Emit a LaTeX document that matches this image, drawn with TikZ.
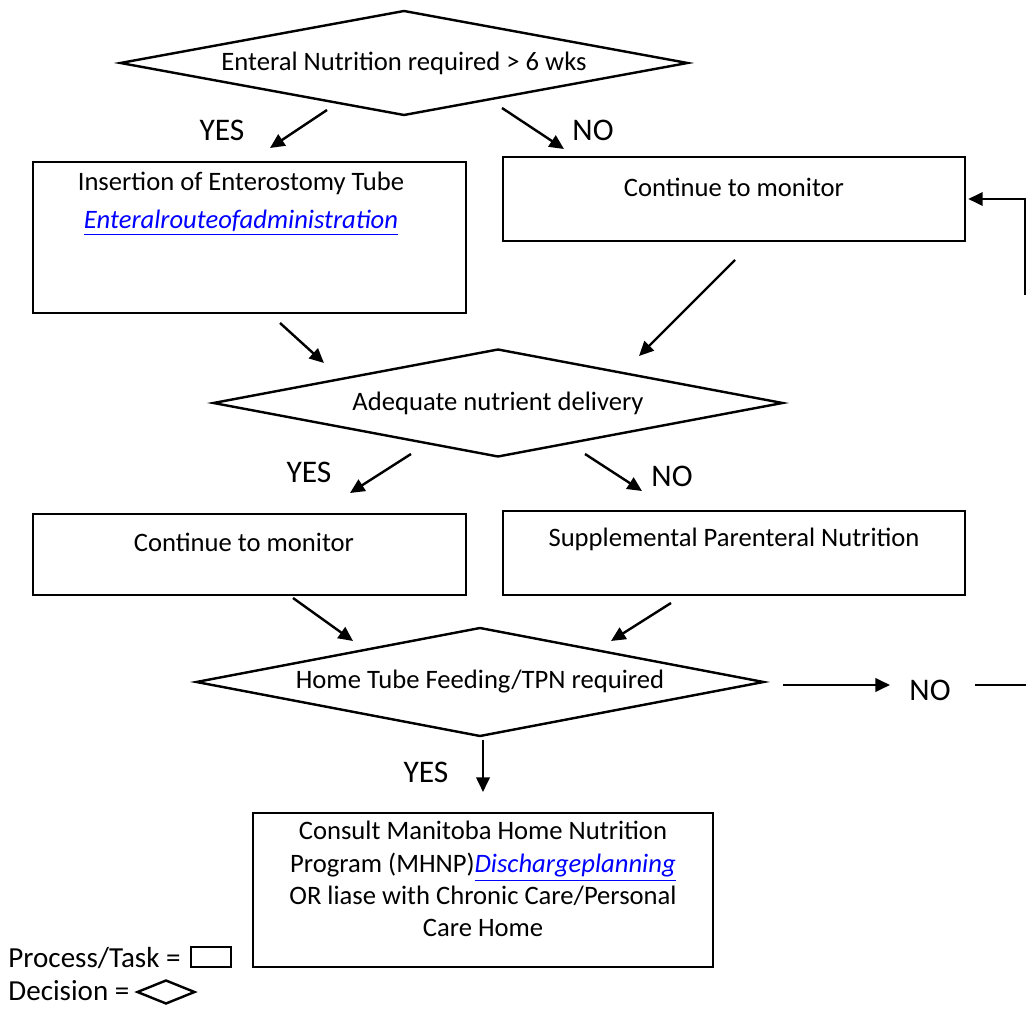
\documentclass[tikz,border=0pt]{standalone}
\usepackage{fontspec}
\setmainfont{Carlito}
\usetikzlibrary{shapes.geometric,arrows.meta}
\newlength\px
\setlength\px{0.4132pt}
\definecolor{linkblue}{RGB}{0,0,255}
\newcommand\weblink[1]{\textcolor{linkblue}{\underline{\textit{#1}}}}
\tikzset{
  box/.style={draw,line width=1pt,inner sep=0pt},
  dec/.style={draw,diamond,line width=1pt,inner sep=0pt,aspect=5.4},
  txt/.style={inner sep=0pt,align=center},
  arr/.style={-{Triangle[length=6pt,width=5.5pt]},line width=1pt},
  lab/.style={inner sep=0pt,font=\fontsize{13pt}{15pt}\selectfont},
  legend/.style={inner sep=0pt,anchor=west,font=\fontsize{12pt}{14pt}\selectfont},
}
\begin{document}
\begin{tikzpicture}[x=\px,y=-\px,font=\fontsize{11pt}{13.5pt}\selectfont]
    \useasboundingbox (0,0) rectangle (1026,1009);

    % decisions
    \node[dec,minimum width=568\px,minimum height=105\px] (d1) at (404,63)  {Enteral Nutrition required > 6 wks};
    \node[dec,minimum width=570\px,minimum height=108\px] (d2) at (498,403) {Adequate nutrient delivery};
    \node[dec,minimum width=568\px,minimum height=109\px] (d3) at (480,682) {Home Tube Feeding/TPN required};

    % tasks
    \node[box,minimum width=433\px,minimum height=151\px] (ins)  at (249.5,237.5) {};
    \node[box,minimum width=462\px,minimum height=84\px]  (mon1) at (734,199)     {};
    \node[box,minimum width=433\px,minimum height=81\px]  (mon2) at (249.5,554.5) {};
    \node[box,minimum width=462\px,minimum height=84\px]  (spn)  at (734,553)     {};
    \node[box,minimum width=460\px,minimum height=154\px] (mhnp) at (483,890)     {};

    \node[txt] (insT)  at (241,204) {Insertion of Enterostomy Tube\\[2pt]\weblink{Enteralrouteofadministration}};
    \node[txt] (mon1T) at (734,187) {Continue to monitor};
    \node[txt] (mon2T) at (244,542) {Continue to monitor};
    \node[txt] (spnT)  at (734,539) {Supplemental Parenteral Nutrition};
    \node[txt,font=\fontsize{11pt}{13.3pt}\selectfont] (mhnpT) at (483,879)
        {Consult Manitoba Home Nutrition\\Program (MHNP)\weblink{Dischargeplanning}\\OR liase with Chronic Care/Personal\\Care Home};

    % answers
    \node[lab] (yes1) at (222,130) {YES};
    \node[lab] (no1)  at (593,130) {NO};
    \node[lab] (yes2) at (309,472) {YES};
    \node[lab] (no2)  at (672,476) {NO};
    \node[lab] (no3)  at (930,690) {NO};
    \node[lab] (yes3) at (426,772) {YES};

    % arrow ends
    \coordinate (a1s) at (327,110); \coordinate (a1e) at (270,148);
    \coordinate (a2s) at (502,108); \coordinate (a2e) at (564,149);
    \coordinate (a3s) at (280,323); \coordinate (a3e) at (324,363);
    \coordinate (a4s) at (735,260); \coordinate (a4e) at (639,356);
    \coordinate (a5s) at (411,454); \coordinate (a5e) at (350,493);
    \coordinate (a6s) at (585,454); \coordinate (a6e) at (642,491);
    \coordinate (a7s) at (293,598); \coordinate (a7e) at (353,641);
    \coordinate (a8s) at (671,603); \coordinate (a8e) at (611,641);
    \coordinate (a9s) at (783,685); \coordinate (a9e) at (890,685);
    \coordinate (a10s) at (483,740); \coordinate (a10e) at (483,792);
    \coordinate (lp1) at (975,685); \coordinate (lp2) at (1027,685);
    \coordinate (lp3) at (1025,295);

    \foreach \s/\e in {a1s/a1e,a2s/a2e,a3s/a3e,a4s/a4e,a5s/a5e,a6s/a6e,a7s/a7e,a8s/a8e,a9s/a9e,a10s/a10e}
        \draw[arr] (\s) -- (\e);
    \draw[line width=1pt] (lp1) -- (lp2);
    \draw[arr] (lp3) |- ([xshift=2\px]mon1.east);

    % legend
    \node[legend] (procL) at (8,958) {Process/Task =};
    \node[box,minimum width=40\px,minimum height=20\px] (procB) at (211,957) {};
    \node[legend] (decL) at (8,991) {Decision =};
    \node[draw,diamond,line width=1pt,inner sep=0pt,minimum width=58\px,minimum height=24\px] (decB) at (166,992) {};
\end{tikzpicture}
\end{document}
